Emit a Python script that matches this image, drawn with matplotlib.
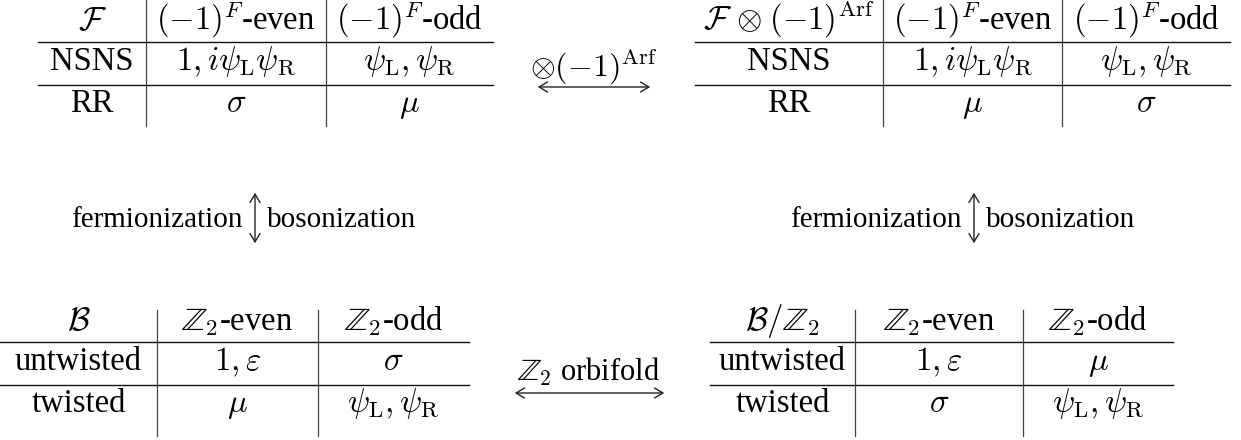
import matplotlib
matplotlib.use('Agg')
import matplotlib.pyplot as plt
from matplotlib.patches import FancyArrowPatch

plt.rcParams['font.family'] = ['Liberation Serif', 'DejaVu Serif']
plt.rcParams['mathtext.fontset'] = 'cm'

# ---- table contents ----
psi_pair = r'$\psi_{\mathrm{L}}, \psi_{\mathrm{R}}$'
nsns_even = r'$1, i\psi_{\mathrm{L}}\psi_{\mathrm{R}}$'

ferm_header = [r'$\mathcal{F}$', r'$(-1)^F$-even', r'$(-1)^F$-odd']
ferm_rows = [['NSNS', nsns_even, psi_pair],
             ['RR', r'$\sigma$', r'$\mu$']]

arf_header = [r'$\mathcal{F}\,\otimes\!\:(-1)^{\mathrm{Arf}}$', r'$(-1)^F$-even', r'$(-1)^F$-odd']
arf_rows = [['NSNS', nsns_even, psi_pair],
            ['RR', r'$\mu$', r'$\sigma$']]

bos_header = [r'$\mathcal{B}$', r'$\mathbb{Z}_2$-even', r'$\mathbb{Z}_2$-odd']
bos_rows = [['untwisted', r'$1, \varepsilon$', r'$\sigma$'],
            ['twisted', r'$\mu$', psi_pair]]

orb_header = [r'$\mathcal{B}/\mathbb{Z}_2$', r'$\mathbb{Z}_2$-even', r'$\mathbb{Z}_2$-odd']
orb_rows = [['untwisted', r'$1, \varepsilon$', r'$\mu$'],
            ['twisted', r'$\sigma$', psi_pair]]

arf_label = r'$\otimes(-1)^{\mathrm{Arf}}$'
orb_label = r'$\mathbb{Z}_2$ orbifold'
left_label = 'fermionization'
right_label = 'bosonization'

TABLE_FS = 23.5
MID_FS = 21


def draw_table(ax, header, rows, xs, top, vtop, vbot):
    # xs: column edges, top: y offset of the table, vtop/vbot: extent of the column rules
    for y in (top + 42, top + 85):
        ax.plot([xs[0], xs[-1]], [y, y], color='#111111', lw=1.0)
    for x in xs[1:-1]:
        ax.plot([x, x], [vtop, vbot], color='#444444', lw=0.9)
    cells = [header] + rows
    baselines = [top + 30, top + 70, top + 112]
    for yb, row in zip(baselines, cells):
        for c, txt in enumerate(row):
            xc = (xs[c] + xs[c + 1]) / 2
            ax.text(xc, yb, txt, ha='center', va='baseline', fontsize=TABLE_FS)


def arrow(ax, p0, p1):
    ax.add_patch(FancyArrowPatch(p0, p1, arrowstyle='<->,head_length=0.5,head_width=0.3',
                                 mutation_scale=12, lw=1.0, color='#222222'))


fig = plt.figure(figsize=(12.41, 4.40), dpi=100)
ax = fig.add_axes([0, 0, 1, 1])
ax.set_xlim(0, 1241)
ax.set_ylim(440, 0)
ax.axis('off')

draw_table(ax, ferm_header, ferm_rows, [38, 146, 326, 493], 0, -5, 126)
draw_table(ax, arf_header, arf_rows, [695, 883, 1062, 1230], 0, -5, 126)
draw_table(ax, bos_header, bos_rows, [0, 157, 318, 469], 300, 310, 436)
draw_table(ax, orb_header, orb_rows, [710, 855, 1023, 1173], 300, 310, 436)

# horizontal arrows
arrow(ax, (535, 87), (653, 87))
ax.text(594, 77, arf_label, ha='center', va='baseline', fontsize=23)
arrow(ax, (512, 393), (667, 393))
ax.text(589, 381, orb_label, ha='center', va='baseline', fontsize=22)

# vertical arrows
for xa in [255, 974]:
    arrow(ax, (xa, 190), (xa, 246))
    ax.text(xa - 12, 227, left_label, ha='right', va='baseline', fontsize=MID_FS)
    ax.text(xa + 12, 227, right_label, ha='left', va='baseline', fontsize=MID_FS)

fig.savefig('out.png', dpi=100, facecolor='white')
